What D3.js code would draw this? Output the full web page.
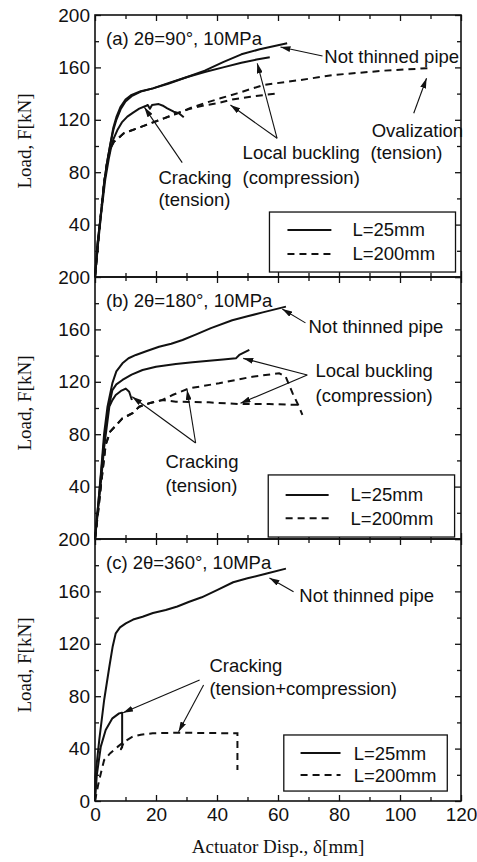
<!DOCTYPE html>
<html>
<head>
<meta charset="utf-8">
<script src="https://cdn.jsdelivr.net/npm/d3@7"></script>
<style>
  body { margin: 0; background: #fff; }
  svg { display: block; }
  .tick text { font-family: "Liberation Sans", Arial, sans-serif; font-size: 19px; fill: #111; }
  .tick line { stroke: #111; stroke-width: 1.3; }
  .note { font-family: "Liberation Sans", Arial, sans-serif; font-size: 18.5px; fill: #111; }
  .title { font-family: "Liberation Serif", "Times New Roman", serif; font-size: 19px; fill: #111; }
</style>
</head>
<body>
<div id="chart-area"></div>
<script>
// shared axes
var xMajor = [0, 20, 40, 60, 80, 100, 120];
var xMinor = [10, 30, 50, 70, 90, 110];
var yLabels = [40, 80, 120, 160, 200];
var yLabelsLast = [0, 40, 80, 120, 160, 200];
var yMinor = [20, 60, 100, 140, 180];

// (a) 2θ=90°  [disp mm, load kN]
var aNotThinned = [[0,0],[0.8,25],[1.8,45],[3,72],[4,88],[5,101],[6,112],[7,120],[8.4,128],[10,134],[12,138],[15,141.5],[19,144],[24,147.5],[30,152.5],[36,157.5],[42,164],[48,170],[54,173.8],[63,178.4]];
var aL25Buckling = [[0,0],[0.8,25],[1.8,45],[3,72],[4,88],[5,101],[6,114],[7,122],[8.4,130],[10,135.5],[12,139],[15,141.8],[19,144],[24,148],[30,152.5],[36,156.5],[42,160],[48,163.5],[53,166],[57.3,167.7]];
var aL25Cracking = [[0,0],[1,25],[2,48],[3.4,75],[4.5,90],[5.1,97],[6,105],[7.3,112],[8.8,118],[10.6,122.4],[12.5,125.5],[14.5,128.5],[16.6,130.5],[17.3,131.3],[18,128.4],[18.7,131.3],[20.9,132],[22.5,130.5],[23.7,128.8],[25.8,126.2],[27.5,125],[29.1,121.9]];
var aL200Ovalization = [[0,0],[1,25],[2,50],[3,72],[4,88],[5,98],[6.2,103.3],[7,104.5],[9.4,109.7],[13.8,113.5],[18.2,117.3],[22.6,121.1],[27,125],[31.3,129],[35.7,132.5],[41.1,136.4],[46.6,140.2],[55.3,146.6],[67.4,150.4],[78.2,154.2],[94.6,157.5],[110,159.5]];
var aL200Buckling = [[0,0],[1,25],[2,50],[3,72],[4,88],[5,98],[6.2,103.3],[7,104.5],[9.4,109.7],[13.8,113.5],[18.2,117.3],[22.6,121.1],[27,125],[31.3,128.5],[35.7,131],[40.1,132.6],[45,135.5],[51,137.6],[59.7,140.2]];

// (b) 2θ=180°
var bNotThinned = [[0,0],[1,25],[2,52],[3,80.7],[4.1,101],[5.7,119],[7,128],[9,134.1],[11,138],[13.4,140.5],[17,143.5],[21,146.8],[25,149],[28.7,151.9],[33,156],[38,161],[45,167],[50,170],[55,173],[62.6,177.4]];
var bL25Buckling = [[0,0],[1,25],[2,50],[3,75],[4.1,96],[5.7,113.7],[7,118],[9,121.4],[12,125.5],[15.6,129],[20,131.5],[26.5,133.6],[32,135],[37.4,136.1],[42,137],[46.2,137.9],[47.3,140.5],[50.6,144.3]];
var bL25Cracking = [[0,0],[1,22],[2,45],[3,70],[4.7,101],[5.7,106],[6.8,109.9],[8.5,113],[10.1,114.8],[11.2,112.4],[12.1,106.1]];
var bL200Upper = [[0,0],[1,20],[2,42],[3.5,72],[5,82],[7,87],[9,92.1],[12.3,96],[14.5,101],[17.8,103.6],[22.1,106.1],[25.4,109.9],[30.9,115],[40.7,118.9],[51.6,123.9],[60.4,126.5],[62.5,124],[64.8,111.2],[66.9,101],[68,94.7]];
var bL200Lower = [[0,0],[1,20],[2,42],[3.5,72],[5,82],[7,87],[9,92.1],[12.3,96],[14.5,101],[17.8,103.6],[22.1,106.1],[26.5,104.8],[37.4,104.3],[47.3,103],[57.1,103],[68,102.3]];

// (c) 2θ=360°
var cNotThinned = [[0,0],[0.1,18.5],[1.4,46.6],[3,77.1],[4.7,102.5],[5.8,118],[6.8,128],[8.2,132.5],[10.1,135.6],[12.5,138.5],[15.6,140.7],[19,143.5],[23.2,145.8],[27,148.5],[30.9,152.1],[35,155.5],[40,161],[45.3,167],[50,170],[56,173.5],[62.6,177.4]];
var cL25 = [[0,0],[0.6,20],[1.9,41.5],[3.5,54.2],[5.7,63.1],[7.9,66.9],[8.8,67.4],[8.9,67.4],[8.9,41],[8.5,39.5],[9.3,44]];
var cL200 = [[0,0],[1,12],[2,22],[3,31.3],[5,36.5],[7.5,41.5],[9.3,44.9],[12.3,49.1],[15,50.6],[18.9,51.7],[27.6,52.1],[46.7,51.7],[46.7,23.7]];

var legendNames = ['L=25mm', 'L=200mm'];

var panels = [
  {
    label: '(a) 2\u03b8=90\u00b0, 10MPa',
    solid: [aNotThinned, aL25Buckling, aL25Cracking],
    dashed: [aL200Ovalization, aL200Buckling],
    notes: [
      {t: 'Not thinned pipe', at: [75.2, 163.4]},
      {t: 'Ovalization', at: [90.7, 107]},
      {t: '(tension)', at: [90.3, 90]},
      {t: 'Local buckling', at: [48.4, 90]},
      {t: '(compression)', at: [48.4, 71]},
      {t: 'Cracking', at: [20.8, 71]},
      {t: '(tension)', at: [20.8, 54]}
    ],
    arrows: [
      [[74.6, 168.7], [60.8, 175.6]],
      [[104.5, 125], [108.7, 151.7]],
      [[59.7, 105.9], [53.2, 163.1]],
      [[59.7, 105.9], [44.4, 131.3]],
      [[28.6, 87.3], [16.2, 129.5]]
    ],
    legend: {x0: 57.2, x1: 118.2, y0: 49.6, y1: 3.8, l0: 63.1, l1: 77.5, tx: 84.4, r1: 35.9, r2: 17.6},
    yTickLabels: yLabels
  },
  {
    label: '(b) 2\u03b8=180\u00b0, 10MPa',
    solid: [bNotThinned, bL25Buckling, bL25Cracking],
    dashed: [bL200Upper, bL200Lower],
    notes: [
      {t: 'Not thinned pipe', at: [70, 157.3]},
      {t: 'Local buckling', at: [72.3, 123.7]},
      {t: '(compression)', at: [72.3, 104.6]},
      {t: 'Cracking', at: [23.1, 54.2]},
      {t: '(tension)', at: [23.1, 35.9]}
    ],
    arrows: [
      [[69, 165], [61.4, 175.6]],
      [[69.6, 125.2], [48.6, 137.9]],
      [[69.6, 125.2], [47.7, 103.6]],
      [[33, 73.3], [12.2, 108.6]],
      [[33, 73.3], [30.2, 113.7]]
    ],
    legend: {x0: 56.8, x1: 117.9, y0: 48.9, y1: 1.5, l0: 62.5, l1: 76.6, tx: 83.8, r1: 33.6, r2: 15.8},
    yTickLabels: yLabels
  },
  {
    label: '(c) 2\u03b8=360\u00b0, 10MPa',
    solid: [cNotThinned, cL25],
    dashed: [cL200],
    notes: [
      {t: 'Not thinned pipe', at: [67, 151.9]},
      {t: 'Cracking', at: [37.5, 98.5]},
      {t: '(tension+compression)', at: [37.5, 80.9]}
    ],
    arrows: [
      [[65.1, 159.8], [57.2, 170.2]],
      [[34.3, 92.4], [9.2, 67.4]],
      [[35.6, 88.5], [27.4, 52.9]]
    ],
    legend: {x0: 61.9, x1: 115.5, y0: 50.4, y1: 7.6, l0: 67.4, l1: 80.5, tx: 84.8, r1: 36.6, r2: 19.8},
    yTickLabels: yLabelsLast
  }
];

var W = 477, H = 862;
var left = 95, plotW = 366, top0 = 15, panelH = 262;

var svg = d3.select('#chart-area')
    .append('svg')
    .attr('width', W)
    .attr('height', H);

svg.append('defs').append('marker')
    .attr('id', 'arrow')
    .attr('viewBox', '0 0 10 6')
    .attr('refX', 10)
    .attr('refY', 3)
    .attr('markerWidth', 10)
    .attr('markerHeight', 6)
    .attr('markerUnits', 'userSpaceOnUse')
    .attr('orient', 'auto')
    .append('path')
    .attr('d', 'M0,0L10,3L0,6Z')
    .attr('fill', '#111');

var x = d3.scaleLinear().domain([0, 120]).range([0, plotW]);
var y = d3.scaleLinear().domain([0, 200]).range([panelH, 0]);

var line = d3.line()
    .x(function (d) { return x(d[0]); })
    .y(function (d) { return y(d[1]); });

function tickAxis(g, axis) {
    g.call(axis);
    g.select('.domain').remove();
}

panels.forEach(function (p, i) {
    var g = svg.append('g')
        .attr('transform', 'translate(' + left + ',' + (top0 + i * panelH) + ')');

    // curves
    g.selectAll('path.solid')
        .data(p.solid)
        .enter()
        .append('path')
        .attr('class', 'solid')
        .attr('d', line)
        .attr('fill', 'none')
        .attr('stroke', '#111')
        .attr('stroke-width', 2)
        .attr('stroke-linejoin', 'round');

    g.selectAll('path.dashed')
        .data(p.dashed)
        .enter()
        .append('path')
        .attr('class', 'dashed')
        .attr('d', line)
        .attr('fill', 'none')
        .attr('stroke', '#111')
        .attr('stroke-width', 2)
        .attr('stroke-dasharray', '7,5');

    // inward ticks on all four sides
    tickAxis(g.append('g').attr('transform', 'translate(0,' + panelH + ')'),
        d3.axisBottom(x).tickValues(xMajor).tickSize(-6).tickPadding(7)
            .tickFormat(i === panels.length - 1 ? d3.format('d') : ''));
    tickAxis(g.append('g').attr('transform', 'translate(0,' + panelH + ')'),
        d3.axisBottom(x).tickValues(xMinor).tickSize(-4).tickFormat(''));
    tickAxis(g.append('g'), d3.axisTop(x).tickValues(xMajor).tickSize(-6).tickFormat(''));
    tickAxis(g.append('g'), d3.axisTop(x).tickValues(xMinor).tickSize(-4).tickFormat(''));

    tickAxis(g.append('g'),
        d3.axisLeft(y).tickValues(p.yTickLabels).tickSize(-6).tickPadding(5).tickFormat(d3.format('d')));
    tickAxis(g.append('g'), d3.axisLeft(y).tickValues(yMinor).tickSize(-4).tickFormat(''));
    tickAxis(g.append('g').attr('transform', 'translate(' + plotW + ',0)'),
        d3.axisRight(y).tickValues(yLabelsLast).tickSize(-6).tickFormat(''));
    tickAxis(g.append('g').attr('transform', 'translate(' + plotW + ',0)'),
        d3.axisRight(y).tickValues(yMinor).tickSize(-4).tickFormat(''));

    g.append('rect')
        .attr('width', plotW)
        .attr('height', panelH)
        .attr('fill', 'none')
        .attr('stroke', '#111')
        .attr('stroke-width', 1.6);

    // panel label
    g.append('text')
        .attr('class', 'note')
        .attr('x', x(3.6))
        .attr('y', y(177))
        .text(p.label);

    // annotations
    g.selectAll('text.ann')
        .data(p.notes)
        .enter()
        .append('text')
        .attr('class', 'note ann')
        .attr('x', function (d) { return x(d.at[0]); })
        .attr('y', function (d) { return y(d.at[1]); })
        .text(function (d) { return d.t; });

    g.selectAll('line.arrow')
        .data(p.arrows)
        .enter()
        .append('line')
        .attr('class', 'arrow')
        .attr('x1', function (d) { return x(d[0][0]); })
        .attr('y1', function (d) { return y(d[0][1]); })
        .attr('x2', function (d) { return x(d[1][0]); })
        .attr('y2', function (d) { return y(d[1][1]); })
        .attr('stroke', '#111')
        .attr('stroke-width', 1.1)
        .attr('marker-end', 'url(#arrow)');

    // legend
    var L = p.legend;
    g.append('rect')
        .attr('x', x(L.x0))
        .attr('y', y(L.y0))
        .attr('width', x(L.x1) - x(L.x0))
        .attr('height', y(L.y1) - y(L.y0))
        .attr('fill', '#fff')
        .attr('stroke', '#111')
        .attr('stroke-width', 1.3);

    [L.r1, L.r2].forEach(function (r, k) {
        g.append('line')
            .attr('x1', x(L.l0))
            .attr('x2', x(L.l1))
            .attr('y1', y(r))
            .attr('y2', y(r))
            .attr('stroke', '#111')
            .attr('stroke-width', 2)
            .attr('stroke-dasharray', k === 1 ? '7,5' : null);
        g.append('text')
            .attr('class', 'note')
            .attr('x', x(L.tx))
            .attr('y', y(r))
            .attr('dy', '0.35em')
            .text(legendNames[k]);
    });

    // y title
    g.append('text')
        .attr('class', 'title')
        .attr('transform', 'translate(' + (31 - left) + ',' + (panelH / 2 - 5) + ') rotate(-90)')
        .attr('text-anchor', 'middle')
        .text('Load, F[kN]');
});

svg.append('text')
    .attr('class', 'title')
    .attr('x', left + plotW / 2)
    .attr('y', 853)
    .attr('text-anchor', 'middle')
    .text('Actuator Disp., \u03b4[mm]');
</script>
</body>
</html>
